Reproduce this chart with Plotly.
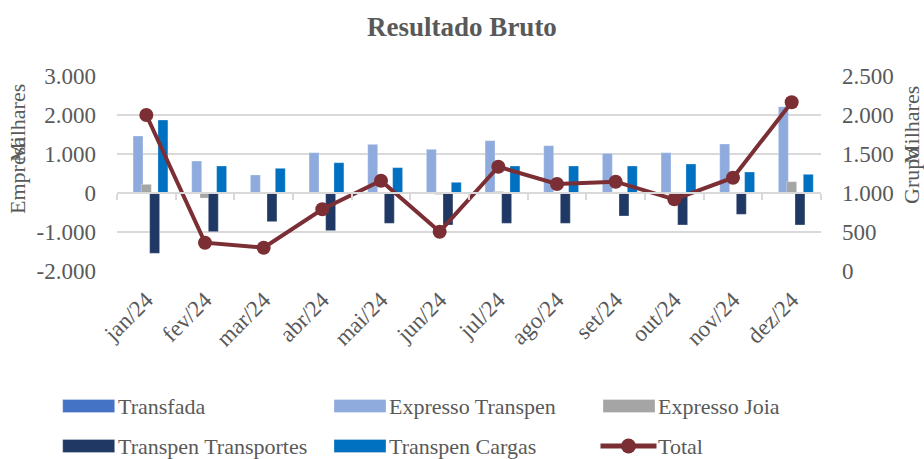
import plotly.graph_objects as go

months = ["jan/24", "fev/24", "mar/24", "abr/24", "mai/24", "jun/24",
          "jul/24", "ago/24", "set/24", "out/24", "nov/24", "dez/24"]

transfada = [0, 0, 0, 0, 0, 0, 0, 0, 0, 0, 0, 0]
expresso_transpen = [1462, 820, 462, 1034, 1248, 1120, 1342, 1214, 1017, 1034, 1256, 2213]
expresso_joia = [222, -130, 0, 0, 0, -40, 40, 0, 0, 0, -25, 290]
transpen_transportes = [-1547, -992, -735, -966, -778, -820, -778, -778, -590, -820, -547, -820]
transpen_cargas = [1872, 692, 633, 777, 650, 274, 692, 692, 692, 744, 538, 479]
total = [2000, 363, 299, 791, 1158, 504, 1337, 1115, 1145, 919, 1196, 2163]

left_ticks = [-2000, -1000, 0, 1000, 2000, 3000]
left_ticktext = ["-2.000", "-1.000", "0", "1.000", "2.000", "3.000"]
right_ticks = [0, 500, 1000, 1500, 2000, 2500]
right_ticktext = ["0", "500", "1.000", "1.500", "2.000", "2.500"]

bar_names = ["Transfada", "Expresso Transpen", "Expresso Joia",
             "Transpen Transportes", "Transpen Cargas"]
bar_values = [transfada, expresso_transpen, expresso_joia, transpen_transportes, transpen_cargas]
bar_colors = ["#4472c4", "#8faadc", "#a5a5a5", "#1f3864", "#0070c0"]
line_name = "Total"
line_color = "#7b2f35"

FONT = "Liberation Serif"
GRAY = "#595959"
GRID = "#d9d9d9"
TS = 23  # text size

W, H = 924, 459
L, R, T, B = 117, 821, 76, 271  # plot area in pixels

fig = go.Figure()

bw = 0.17
sp = 0.1415
for i, (name, vals, col) in enumerate(zip(bar_names, bar_values, bar_colors)):
    center = (i - 2) * sp
    fig.add_trace(go.Bar(
        x=months, y=vals, name=name, marker_color=col,
        marker_line_color="rgba(255,255,255,0.5)", marker_line_width=0.6,
        width=bw, offset=center - bw / 2, showlegend=False,
        xaxis="x", yaxis="y"))

fig.add_trace(go.Scatter(
    x=months, y=total, name=line_name, mode="lines+markers",
    line=dict(color=line_color, width=4),
    marker=dict(color=line_color, size=14),
    showlegend=False, xaxis="x2", yaxis="y2"))


def px2x(px):
    return (px - L) / (R - L)


def px2y(py):
    return (B - py) / (B - T)


shapes = []
annotations = []

# manual legend
col_x = [62.7, 334, 603]
row_y = [406, 446]
legend_items = [(n, c) for n, c in zip(bar_names, bar_colors)] + [(line_name, line_color)]
for k, (name, col) in enumerate(legend_items):
    cx = col_x[k % 3]
    cy = row_y[k // 3]
    if name == line_name:
        shapes.append(dict(type="line", xref="paper", yref="paper",
                           x0=px2x(cx - 2.5), x1=px2x(cx + 53.5), y0=px2y(cy), y1=px2y(cy),
                           line=dict(color=col, width=5)))
        shapes.append(dict(type="circle", xref="paper", yref="paper",
                           x0=px2x(cx + 25.5 - 7.5), x1=px2x(cx + 25.5 + 7.5),
                           y0=px2y(cy - 7.5), y1=px2y(cy + 7.5),
                           fillcolor=col, line=dict(color=col, width=0)))
    else:
        shapes.append(dict(type="rect", xref="paper", yref="paper",
                           x0=px2x(cx), x1=px2x(cx + 52), y0=px2y(cy - 6.5), y1=px2y(cy + 6.5),
                           fillcolor=col, line=dict(color="rgba(255,255,255,0.5)", width=0.6)))
    annotations.append(dict(text=name, xref="paper", yref="paper",
                            x=px2x(cx + 53), y=px2y(cy), xanchor="left", yanchor="middle",
                            showarrow=False, font=dict(family=FONT, size=22, color=GRAY)))

# axis titles (overlapping as in reference)
annotations += [
    dict(text="Empresa", xref="paper", yref="paper", x=px2x(17), y=px2y(175),
         textangle=-90, showarrow=False, xanchor="center", yanchor="middle",
         font=dict(family=FONT, size=22, color=GRAY)),
    dict(text="Milhares", xref="paper", yref="paper", x=px2x(17), y=px2y(123),
         textangle=-90, showarrow=False, xanchor="center", yanchor="middle",
         font=dict(family=FONT, size=22, color=GRAY)),
    dict(text="Grupo", xref="paper", yref="paper", x=px2x(911), y=px2y(176),
         textangle=-90, showarrow=False, xanchor="center", yanchor="middle",
         font=dict(family=FONT, size=22, color=GRAY)),
    dict(text="Milhares", xref="paper", yref="paper", x=px2x(911), y=px2y(125),
         textangle=-90, showarrow=False, xanchor="center", yanchor="middle",
         font=dict(family=FONT, size=22, color=GRAY)),
]

fig.update_layout(
    width=W, height=H,
    margin=dict(l=L, r=W - R, t=T, b=H - B, pad=0),
    paper_bgcolor="white", plot_bgcolor="white",
    barmode="overlay",
    font=dict(family=FONT, size=TS, color=GRAY),
    title=dict(text="<b>Resultado Bruto</b>", x=0.5, xanchor="center",
               y=1 - 27 / H, yanchor="middle",
               font=dict(family=FONT, size=27, color=GRAY)),
    showlegend=False,
    xaxis=dict(type="category", categoryorder="array", categoryarray=months,
               range=[-0.5, 11.5],
               tickangle=-45, showgrid=False, showline=False, zeroline=False,
               ticks="", ticklabelstandoff=10,
               tickfont=dict(family=FONT, size=TS, color=GRAY)),
    xaxis2=dict(type="category", categoryorder="array", categoryarray=months,
                matches="x", overlaying="x", anchor="free", position=0.4,
                showticklabels=False, showgrid=False, zeroline=False,
                showline=True, linecolor=GRID, linewidth=1.5,
                ticks="outside", tickson="boundaries", ticklen=6,
                tickcolor=GRID, tickwidth=1.5),
    yaxis=dict(range=[-2000, 3000], tickvals=left_ticks, ticktext=left_ticktext,
               showgrid=True, gridcolor=GRID, gridwidth=1.5, zeroline=False,
               showline=False, ticks="", ticklabelstandoff=20,
               tickfont=dict(family=FONT, size=TS, color=GRAY)),
    yaxis2=dict(range=[0, 2500], tickvals=right_ticks, ticktext=right_ticktext,
                overlaying="y", side="right", anchor="x",
                showgrid=False, zeroline=False, showline=False, ticks="",
                ticklabelstandoff=20,
                tickfont=dict(family=FONT, size=TS, color=GRAY)),
    shapes=shapes,
    annotations=annotations,
)

fig.write_html("out.html", config={"displayModeBar": False},
               post_script="document.body.style.margin='0';")
